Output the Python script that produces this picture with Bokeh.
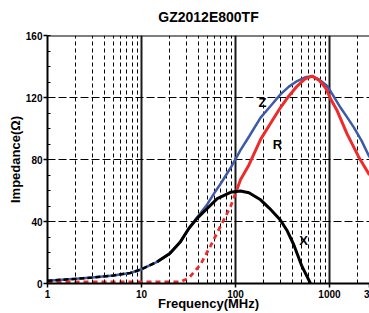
import math
from bokeh.plotting import figure
from bokeh.models import FixedTicker, Label, Span, Range1d, CustomJSTickFormatter
from bokeh.embed import file_html
from bokeh.resources import INLINE

# ---- data ----
z_freq = [1, 2, 3, 5, 7.6, 10, 14.7, 20, 26, 32, 39, 50, 59, 70, 88.5, 113, 140, 185, 240,
          301, 370, 453, 550, 655, 780, 946, 1100, 1309, 1550, 1815, 2200, 2665]
z_vals = [1.8, 3, 3.8, 5.2, 6.8, 9.2, 14, 19.3, 27, 35.6, 42.5, 51, 58, 64.7, 74.5, 86, 95, 107, 115,
          122, 127, 130.6, 133, 133.8, 131.5, 127.4, 121, 113.5, 107, 100.7, 92, 81.5]

r_freq = [1, 2, 5, 10, 20, 26, 32, 37, 42.4, 54, 69, 88.5, 104, 113, 139, 185, 240,
          301, 370, 453, 550, 655, 780, 906, 1050, 1208, 1542, 2051, 2665]
r_vals = [1, 1, 1, 1, 1, 1, 3.6, 8, 12.2, 24, 36.7, 49.5, 61, 67, 76.5, 93, 104,
          113.5, 121, 127.4, 132, 133.8, 131, 126.3, 118, 111.4, 96.4, 81.5, 70]

x_freq = [1, 2, 3, 5, 7.6, 10, 14.7, 20, 26, 32, 39, 50, 64, 88.5, 113, 139, 185, 230,
          300, 355, 417, 510, 628]
x_vals = [1.8, 3, 3.8, 5.2, 6.8, 9.2, 14, 19.3, 27, 35.6, 42, 48.4, 54.8, 58.8, 59.7, 58.5, 54, 48.5,
          41, 34, 25, 11, 0]

x_major = [1, 10, 100, 1000]
x_edge_tick = 2664          # the "3000" label, cut to "3" at the right edge
x_minor = [2, 3, 4, 5, 6, 7, 8, 9, 20, 30, 40, 50, 60, 70, 80, 90,
           200, 300, 400, 500, 600, 700, 800, 900, 2000]
y_major = [0, 40, 80, 120, 160]
y_minor = list(range(0, 161, 10))

FONT = "Liberation Sans"

p = figure(width=369, height=313, x_axis_type="log",
           x_range=Range1d(1, 2665), y_range=Range1d(0, 160),
           output_backend="svg", toolbar_location=None,
           min_border_left=47, min_border_right=0, min_border_top=34, min_border_bottom=29)
p.outline_line_color = None
p.background_fill_color = "white"
p.border_fill_color = "white"

p.title.text = "GZ2012E800TF"
p.title.align = "center"
p.title.vertical_align = "top"
p.title.offset = 12
p.title.standoff = 17
p.title.text_font = FONT
p.title.text_font_style = "bold"
p.title.text_font_size = "14px"
p.title.text_color = "black"

p.xaxis.ticker = FixedTicker(ticks=x_major + [x_edge_tick], minor_ticks=x_minor)
p.yaxis.ticker = FixedTicker(ticks=y_major, minor_ticks=y_minor)
p.xgrid.ticker = FixedTicker(ticks=x_major, minor_ticks=x_minor)
p.ygrid.ticker = FixedTicker(ticks=y_major, minor_ticks=y_minor)
p.xaxis.formatter = CustomJSTickFormatter(
    code="return tick > 2000 ? '3' : String(Math.round(tick));")

p.xgrid.grid_line_color = "#1a1a1a"
p.xgrid.grid_line_width = 2
p.xgrid.minor_grid_line_color = "black"
p.xgrid.minor_grid_line_width = 1
p.xgrid.minor_grid_line_dash = "4 3"
p.ygrid.grid_line_color = "black"
p.ygrid.grid_line_width = 1
p.ygrid.grid_line_dash = "8 3"

for ax in (p.xaxis[0], p.yaxis[0]):
    ax.axis_line_width = 2
    ax.axis_line_color = "black"
    ax.major_tick_out = 4
    ax.major_tick_in = 0
    ax.minor_tick_in = 3
    ax.minor_tick_out = 0
    ax.major_tick_line_width = 1.5
    ax.minor_tick_line_width = 1
    ax.major_label_text_font = FONT
    ax.major_label_text_font_style = "bold"
    ax.major_label_text_font_size = "10px"
    ax.major_label_text_color = "black"
    ax.axis_label_text_font = FONT
    ax.axis_label_text_font_style = "bold"
    ax.axis_label_text_font_size = "13px"
    ax.axis_label_text_color = "black"
p.yaxis.major_label_standoff = 1
p.xaxis.major_label_standoff = 2
p.yaxis.axis_label = "Impedance(\u03a9)"
p.yaxis.axis_label_standoff = 0
p.xaxis.axis_label = "Frequency(MHz)"
p.xaxis.axis_label_standoff = -5

p.add_layout(Span(location=160, dimension="width", line_color="black", line_width=2))

# curves
BLUE = "#3d5aa8"
RED = "#ee2b2b"
p.line(z_freq, z_vals, line_color=BLUE, line_width=2.5)

rs = 12
p.line(r_freq[:rs + 1], r_vals[:rs + 1], line_color=RED, line_width=2.8, line_dash="5 4")
p.line(r_freq[rs:], r_vals[rs:], line_color=RED, line_width=3)

xs = 6
p.line(x_freq[:xs + 1], x_vals[:xs + 1], line_color="black", line_width=2.5, line_dash="5 3")
p.line(x_freq[xs:], x_vals[xs:], line_color="black", line_width=3)

def lab(txt, x, y, size="13px"):
    p.add_layout(Label(x=x, y=y, text=txt, text_font=FONT, text_font_style="bold",
                       text_font_size=size, text_align="center", text_baseline="middle",
                       text_color="black"))

lab("Z", 194, 116.5)
lab("R", 280, 90)
lab("X", 529, 27.5)

open("out.html", "w").write(file_html(p, INLINE))
